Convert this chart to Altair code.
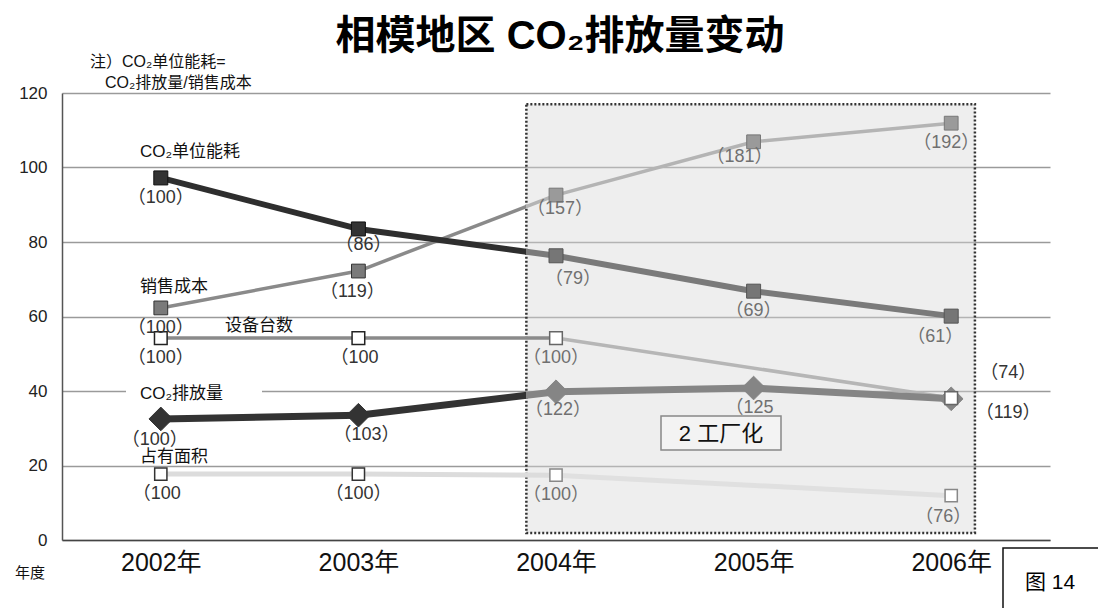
import json
import altair as alt
import pandas as pd

FONT = "Liberation Sans, Noto Sans CJK SC, sans-serif"

# ---------------- data ----------------
years = ["2002年", "2003年", "2004年", "2005年", "2006年"]

unit_energy = [97.2, 83.5, 76.3, 66.8, 60.1]
sales_cost = [62.3, 72.2, 92.6, 106.9, 111.9]
equipment = [54.2, 54.2, 54.2, None, 38.1]
co2_emission = [32.5, 33.5, 39.8, 40.8, 37.9]
floor_area = [17.7, 17.7, 17.4, None, 11.9]

unit_energy_lbl = ["（100）", "（86）", "（79）", "（69）", "（61）"]
sales_cost_lbl = ["（100）", "（119）", "（157）", "（181）", "（192）"]
equipment_lbl = ["（100）", "（100", "（100）", None, "（74）"]
co2_emission_lbl = ["（100）", "（103）", "（122）", "（125", "（119）"]
floor_area_lbl = ["（100", "（100）", "（100）", None, "（76）"]

series_names = ["CO₂单位能耗", "销售成本", "设备台数", "CO₂排放量", "占有面积"]

title_text = "相模地区 CO₂排放量变动"
note_lines = ["注）CO₂单位能耗=", "CO₂排放量/销售成本"]
period_text = "2 工厂化"
fig_text = "图 14"
year_axis_text = "年度"

# ---------------- layout / style ----------------
W, H = 988, 447
SHADE_X0, SHADE_X1, SHADE_Y0, SHADE_Y1 = 1.85, 4.12, 1.9, 117.0

x_scale = alt.Scale(domain=[-0.5, 4.5], nice=False, zero=False)
y_scale = alt.Scale(domain=[0, 120], nice=False)

label_expr = json.dumps(years, ensure_ascii=False) + "[datum.value]"
x_axis = alt.Axis(values=[0, 1, 2, 3, 4], labelExpr=label_expr, title=None, grid=False,
                  ticks=False, labelFontSize=25, labelColor="#111", labelFont=FONT,
                  domainColor="#444", domainWidth=1.5, labelPadding=10)
y_axis = alt.Axis(values=[0, 20, 40, 60, 80, 100, 120], title=None, grid=True,
                  gridColor="#9a9a9a", gridWidth=1.3, ticks=False, domainColor="#555",
                  domainWidth=1.5, labelFontSize=17, labelPadding=15, labelColor="#222",
                  labelFont=FONT)

X = alt.X("idx:Q", scale=x_scale, axis=x_axis)
Y = alt.Y("v:Q", scale=y_scale, axis=y_axis)

series = [
    dict(key="area", vals=floor_area, lbls=floor_area_lbl, lw=5, left="#dcdcdc", right="#e0e0e0",
         grad=False, shape="square", size=150, fill_l="white", fill_r="white",
         stroke_l="#333", stroke_r="#888", sw=1.5),
    dict(key="equip", vals=equipment, lbls=equipment_lbl, lw=3.5, left="#8a8a8a", right="#b6b6b6",
         grad=False, shape="square", size=160, fill_l="white", fill_r="white",
         stroke_l="#222", stroke_r="#666", sw=1.5),
    dict(key="sales", vals=sales_cost, lbls=sales_cost_lbl, lw=3.5, left="#8a8a8a", right="#b4b4b4",
         grad=True, shape="square", size=190, fill_l="#7a7a7a", fill_r="#9a9a9a",
         stroke_l="#333", stroke_r="#777", sw=1),
    dict(key="unit", vals=unit_energy, lbls=unit_energy_lbl, lw=6, left="#2e2e2e", right="#7a7a7a",
         grad=True, shape="square", size=196, fill_l="#333", fill_r="#767676",
         stroke_l="#111", stroke_r="#555", sw=1),
    dict(key="co2", vals=co2_emission, lbls=co2_emission_lbl, lw=7, left="#333333", right="#858585",
         grad=True, shape="diamond", size=560, fill_l="#333", fill_r="#858585",
         stroke_l="#333", stroke_r="#858585", sw=1),
]


def pts(vals, idxs):
    rows = [{"idx": i, "v": vals[i]} for i in idxs if vals[i] is not None]
    return pd.DataFrame(rows)


layers = []

# shaded period
shade_df = pd.DataFrame({"idx": [SHADE_X0], "idx2": [SHADE_X1], "v": [SHADE_Y0], "v2": [SHADE_Y1]})
layers.append(
    alt.Chart(shade_df).mark_rect(fill="#d6d6d6", fillOpacity=0.42, stroke="#333",
                                  strokeDash=[2, 2], strokeWidth=2.5)
    .encode(x=X, x2="idx2:Q", y=Y, y2="v2:Q")
)

# white background behind CO2 emission label
layers.append(
    alt.Chart(shade_df).mark_rect(fill="white")
    .encode(x=alt.value(64), x2=alt.value(200), y=alt.value(290), y2=alt.value(306))
)

# lines
for s in series:
    layers.append(alt.Chart(pts(s["vals"], [0, 1])).mark_line(stroke=s["left"], strokeWidth=s["lw"])
                  .encode(x=X, y=Y))
    if s["grad"]:
        off = SHADE_X0 - 1
        grad = {"gradient": "linear", "x1": 0, "y1": 0, "x2": 1, "y2": 0,
                "stops": [{"offset": 0, "color": s["left"]}, {"offset": off, "color": s["left"]},
                          {"offset": off, "color": s["right"]}, {"offset": 1, "color": s["right"]}]}
        mid = alt.Chart(pts(s["vals"], [1, 2])).mark_line(stroke=grad, strokeWidth=s["lw"])
    else:
        mid = alt.Chart(pts(s["vals"], [1, 2])).mark_line(stroke=s["left"], strokeWidth=s["lw"])
    layers.append(mid.encode(x=X, y=Y))
    layers.append(alt.Chart(pts(s["vals"], [2, 3, 4])).mark_line(stroke=s["right"], strokeWidth=s["lw"])
                  .encode(x=X, y=Y))

# markers (diamonds first, then squares)
for s in [series[4], series[3], series[2], series[1], series[0]]:
    for side, idxs in (("l", [0, 1]), ("r", [2, 3, 4])):
        layers.append(
            alt.Chart(pts(s["vals"], idxs)).mark_point(
                shape=s["shape"], size=s["size"], filled=True, opacity=1,
                fill=s["fill_" + side], stroke=s["stroke_" + side], strokeWidth=s["sw"])
            .encode(x=X, y=Y)
        )

# value labels
offsets = {
    ("unit", 1): (5, 16), ("unit", 2): (17, 23), ("unit", 4): (-16, 21),
    ("sales", 1): (-6, 21), ("sales", 2): (4, 14), ("sales", 3): (-14, 15), ("sales", 4): (-5, 20),
    ("equip", 4): (57, -25), ("co2", 4): (57, 14), ("co2", 0): (-6, 21), ("co2", 1): (8, 20),
    ("co2", 2): (2, 18), ("area", 4): (-8, 21),
}
outside = {("equip", 4), ("co2", 4)}
for s in series:
    for i, lbl in enumerate(s["lbls"]):
        if lbl is None:
            continue
        dx, dy = offsets.get((s["key"], i), (0, 20))
        color = "#333" if (i < 2 or (s["key"], i) in outside) else "#707070"
        align = "center"
        if not lbl.endswith("）"):
            align = "left"
            dx = dx - 28
        df = pd.DataFrame({"idx": [i], "v": [s["vals"][i]], "t": [lbl]})
        layers.append(
            alt.Chart(df).mark_text(font=FONT, fontSize=18, color=color, dx=dx, dy=dy,
                                    align=align, baseline="middle")
            .encode(x=X, y=Y, text="t:N")
        )

# series name labels (pixel annotations)
name_pos = [(78, 59), (78, 194), (163, 233), (78, 301), (78, 364)]
for k, (px, py) in enumerate(name_pos):
    layers.append(
        alt.Chart(shade_df).mark_text(font=FONT, fontSize=17, color="#111", align="left",
                                      baseline="middle")
        .encode(x=alt.value(px), y=alt.value(py), text=alt.value(series_names[k]))
    )

# period box
layers.append(
    alt.Chart(shade_df).mark_rect(fill="#f3f3f3", stroke="#888", strokeWidth=1.5)
    .encode(x=alt.value(599), x2=alt.value(719), y=alt.value(323), y2=alt.value(357))
)
layers.append(
    alt.Chart(shade_df).mark_text(font=FONT, fontSize=22, color="#111", align="center", baseline="middle")
    .encode(x=alt.value(659), y=alt.value(341), text=alt.value(period_text))
)

# title and notes
layers.append(
    alt.Chart(shade_df).mark_text(font=FONT, fontSize=40, fontWeight="bold", color="#000",
                                  align="center", baseline="middle")
    .encode(x=alt.value(498), y=alt.value(-56), text=alt.value(title_text))
)
layers.append(
    alt.Chart(shade_df).mark_text(font=FONT, fontSize=16, color="#111", align="left", baseline="middle")
    .encode(x=alt.value(28), y=alt.value(-31), text=alt.value(note_lines[0]))
)
layers.append(
    alt.Chart(shade_df).mark_text(font=FONT, fontSize=16, color="#111", align="left", baseline="middle")
    .encode(x=alt.value(43), y=alt.value(-10), text=alt.value(note_lines[1]))
)
layers.append(
    alt.Chart(shade_df).mark_text(font=FONT, fontSize=15, color="#111", align="center", baseline="middle")
    .encode(x=alt.value(-32), y=alt.value(480), text=alt.value(year_axis_text))
)

# figure number box
layers.append(
    alt.Chart(shade_df).mark_rect(fill="white", stroke="#111", strokeWidth=1.5)
    .encode(x=alt.value(941), x2=alt.value(1045), y=alt.value(455), y2=alt.value(520))
)
layers.append(
    alt.Chart(shade_df).mark_text(font=FONT, fontSize=21, color="#000", align="center", baseline="middle")
    .encode(x=alt.value(988), y=alt.value(490), text=alt.value(fig_text))
)

chart = alt.layer(*layers).properties(
    width=W, height=H,
    autosize=alt.AutoSizeParams(type="none"),
    padding={"left": 62, "top": 93, "right": 48, "bottom": 68},
    background="white",
).configure_view(stroke="transparent")

chart.save("out.html", embed_options={"renderer": "svg", "actions": False})
